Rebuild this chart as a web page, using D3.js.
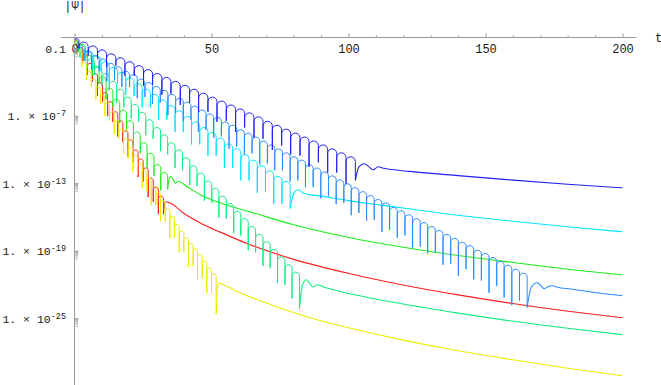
<!DOCTYPE html>
<html>
<head>
<meta charset="utf-8">
<script src="https://cdn.jsdelivr.net/npm/d3@7"></script>
<style>
  body { margin: 0; background: #fff; }
  svg { display: block; }
</style>
</head>
<body>
<div id="chart"></div>
<script>
// values are log10|Psi|; dips are [t, log10 value] at the zeros of the ringing,
// peaks are the lobe tops between two dips, tails are the late-time power laws
const xMajor = [0, 50, 100, 150, 200];
const xMinor = [10, 20, 30, 40, 60, 70, 80, 90, 110, 120, 130, 140, 160, 170, 180, 190];
const yTickExp = [-1, -7, -13, -19, -25];

const blueDips = [[0,-0.3],[1.6,-1.0],[5.0,-1.6],[8.4,-1.9],[11.7,-2.6],[15.1,-2.5],[18.4,-3.4],[21.8,-3.4],[25.2,-4.3],[28.5,-4.2],[31.9,-5.1],[35.2,-5.0],[38.6,-6.0],[42.0,-5.8],[45.3,-6.6],[48.7,-6.6],[52.0,-7.5],[55.4,-7.4],[58.8,-8.4],[62.1,-8.0],[65.5,-8.9],[68.8,-9.0],[72.2,-10.0],[75.6,-9.6],[78.9,-10.4],[82.3,-10.5],[85.6,-11.5],[89.0,-11.1],[92.4,-12.0],[95.7,-12.0],[99.1,-13.0],[102.5,-12.7]];
const bluePeaks = [-0.1,-0.4,-0.75,-1.1,-1.45,-1.8,-2.15,-2.5,-2.85,-3.2,-3.55,-3.9,-4.25,-4.6,-4.95,-5.3,-5.65,-6.0,-6.35,-6.7,-7.05,-7.45,-7.8,-8.15,-8.5,-8.85,-9.2,-9.55,-9.9,-10.25,-10.6];
const blueTail = [[102.5,-12.7],[103.8,-11.5],[105.7,-11.22],[107.5,-11.5],[109,-11.76],[110.8,-11.49],[113,-11.63],[122.5,-11.9],[140,-12.28],[160,-12.68],[180,-13.04],[200,-13.36]];

const azureDips = [[0.6,-1.3],[3.4,-2.1],[6.2,-2.9],[9.0,-3.0],[11.8,-3.9],[14.6,-3.8],[17.3,-4.4],[20.1,-4.4],[22.9,-5.4],[25.7,-5.3],[28.5,-5.9],[31.3,-5.8],[34.1,-6.9],[36.9,-6.7],[39.7,-7.4],[42.5,-7.3],[45.2,-8.4],[48.0,-8.2],[50.8,-8.9],[53.6,-8.8],[56.4,-9.9],[59.2,-9.7],[62.0,-10.4],[64.8,-10.3],[67.6,-11.3],[70.4,-11.2],[73.1,-11.8],[75.9,-11.8],[78.7,-12.8],[81.5,-12.7],[84.3,-13.3],[87.1,-13.3],[89.9,-14.3],[92.7,-14.1],[95.5,-14.8],[98.3,-14.7],[101.0,-15.8],[103.8,-15.6],[106.6,-16.3],[109.4,-16.2],[112.2,-17.3],[115.0,-17.1],[117.8,-17.8],[120.6,-17.6],[123.4,-18.7],[126.2,-18.6],[128.9,-19.2],[131.7,-19.1],[134.5,-20.2],[137.3,-20.1],[140.1,-21.2],[142.9,-20.6],[145.7,-21.5],[148.5,-21.6],[151.3,-22.7],[154.1,-22.1],[156.8,-23.1],[159.6,-23.8],[162.4,-23.4],[165.2,-24.0]];
const azurePeaks = [-0.9,-1.2,-1.6,-1.9,-2.3,-2.6,-3.0,-3.3,-3.7,-4.0,-4.35,-4.7,-5.05,-5.4,-5.75,-6.1,-6.45,-6.8,-7.1,-7.5,-7.8,-8.2,-8.5,-8.85,-9.2,-9.55,-9.9,-10.25,-10.6,-10.9,-11.3,-11.6,-11.95,-12.3,-12.65,-13.0,-13.35,-13.7,-14.05,-14.4,-14.7,-15.1,-15.4,-15.75,-16.1,-16.45,-16.8,-17.15,-17.5,-17.85,-18.2,-18.5,-18.9,-19.2,-19.55,-19.9,-20.25,-20.6,-20.95];
const azureTail = [[165.2,-24.0],[166.7,-22.2],[168.9,-21.8],[170.2,-22.05],[171.4,-22.33],[172.8,-22.15],[174.4,-22.07],[176.2,-22.2],[181,-22.35],[190,-22.67],[200,-22.96]];

const cyanDips = [[0.7,-1.2],[3.7,-2.0],[6.7,-2.8],[9.7,-3.0],[12.7,-4.0],[15.7,-4.1],[18.7,-5.1],[21.7,-5.2],[24.7,-6.2],[27.7,-6.2],[30.7,-7.3],[33.7,-7.3],[36.7,-8.4],[39.7,-8.4],[42.7,-9.5],[45.7,-9.5],[48.7,-10.5],[51.7,-10.5],[54.7,-11.6],[57.7,-11.6],[60.7,-12.7],[63.7,-12.7],[66.7,-13.8],[69.7,-13.7],[72.7,-14.8],[75.7,-14.8],[78.7,-15.2]];
const cyanPeaks = [-0.7,-1.2,-1.65,-2.15,-2.65,-3.1,-3.6,-4.1,-4.6,-5.05,-5.55,-6.05,-6.5,-7.0,-7.5,-8.0,-8.45,-8.95,-9.45,-9.9,-10.4,-10.9,-11.4,-11.85,-12.35,-12.8];
const cyanTail = [[78.7,-15.2],[80.2,-13.75],[81.8,-13.53],[83.5,-13.85],[90,-14.1],[100,-14.5],[120,-15.15],[140,-15.8],[160,-16.33],[180,-16.82],[200,-17.27]];

const springDips = [[0,-0.4],[2.0,-1.8],[4.7,-2.8],[7.3,-3.3],[10.0,-4.3],[12.7,-4.7],[15.4,-5.8],[18.0,-6.2],[20.7,-7.2],[23.4,-7.5],[26.0,-8.7],[28.7,-9.0],[31.4,-10.1],[34.0,-10.4],[36.7,-11.6],[39.4,-11.8],[42.1,-13.1],[44.7,-13.2],[47.4,-14.5],[50.1,-14.7],[52.7,-16.0],[55.4,-16.1],[58.1,-17.4],[60.7,-17.6],[63.4,-18.9],[66.1,-19.1],[68.8,-20.3],[71.4,-20.5],[74.1,-21.8],[76.8,-22.0],[79.4,-23.2],[82.1,-24.1]];
const springPeaks = [-0.5,-1.2,-1.9,-2.6,-3.2,-3.9,-4.6,-5.3,-5.95,-6.65,-7.3,-8.0,-8.65,-9.35,-10.0,-10.7,-11.4,-12.05,-12.75,-13.4,-14.1,-14.75,-15.45,-16.1,-16.8,-17.5,-18.15,-18.85,-19.5,-20.2,-20.85];
const springTail = [[82.1,-24.1],[83.2,-22.0],[84.6,-21.53],[86,-21.9],[87,-22.18],[88.5,-21.98],[92.1,-22.27],[100.6,-22.78],[118.9,-23.65],[140,-24.5],[156.5,-25.1],[180,-25.85],[200,-26.42]];

const greenDips = [[0,-0.2],[1.5,-1.3],[4.0,-2.1],[6.5,-3.4],[9.0,-4.1],[11.5,-5.5],[14.0,-6.2],[16.5,-7.6],[19.0,-8.2],[21.5,-9.6],[24.0,-10.3],[26.5,-11.6],[29.0,-12.3],[31.5,-13.6],[34.0,-13.5]];
const greenPeaks = [-0.3,-0.6,-1.6,-2.55,-3.5,-4.5,-5.5,-6.45,-7.4,-8.4,-9.35,-10.3,-11.3,-12.0];
const greenTail = [[34.0,-13.5],[34.6,-12.5],[35.2,-12.35],[36.8,-12.94],[38,-12.8],[41,-13.24],[45.9,-13.98],[55,-14.85],[64.1,-15.5],[80,-16.65],[100.6,-17.8],[118.9,-18.6],[140,-19.38],[160,-20.0],[180.9,-20.62],[200,-21.09]];

const redDips = [[0,-0.1],[1.0,-1.2],[2.85,-2.1],[4.7,-3.3],[6.55,-3.9],[8.4,-5.2],[10.25,-5.7],[12.1,-7.0],[13.95,-7.5],[15.8,-8.8],[17.65,-9.3],[19.5,-10.6],[21.35,-11.1],[23.2,-12.4],[25.05,-12.8],[26.9,-14.2],[28.75,-14.6],[30.6,-15.7],[32.45,-15.7]];
const redPeaks = [-0.2,-0.6,-1.5,-2.3,-3.2,-4.0,-4.9,-5.7,-6.6,-7.4,-8.3,-9.1,-10.0,-10.8,-11.6,-12.5,-13.3,-14.1];
const redTail = [[32.45,-15.7],[33.2,-14.6],[34.9,-14.72],[40,-15.65],[45.9,-16.49],[53.2,-17.3],[64.1,-18.42],[80,-19.72],[100.6,-21.0],[118.9,-21.95],[140,-22.88],[160,-23.65],[180.9,-24.35],[200,-24.91]];

const yellowDips = [[0,-0.2],[1.0,-1.5],[2.7,-2.6],[4.4,-3.8],[6.1,-4.4],[7.8,-5.5],[9.45,-5.9],[11.1,-7.0],[12.8,-7.4],[14.5,-8.6],[16.2,-9.0],[17.9,-10.3],[19.6,-10.7],[21.3,-12.0],[23.0,-12.2],[24.7,-13.4],[26.4,-13.6],[28.0,-14.9],[29.7,-14.9],[31.4,-16.3],[33.1,-16.4],[34.8,-17.8],[36.5,-17.8],[38.2,-19.1],[39.9,-19.1],[41.6,-20.4],[43.3,-20.3],[44.9,-21.5],[46.6,-21.4],[48.3,-22.7],[50.0,-22.7],[51.7,-24.6]];
const yellowPeaks = [-0.3,-1.1,-2.2,-3.0,-3.7,-4.4,-5.1,-5.8,-6.6,-7.4,-8.2,-9.0,-9.8,-10.5,-11.2,-11.8,-12.5,-13.2,-13.8,-14.5,-15.2,-15.9,-16.6,-17.2,-17.8,-18.3,-18.8,-19.3,-19.9,-20.5,-21.0];
const yellowTail = [[51.7,-24.6],[52.2,-22.2],[52.6,-21.83],[54.4,-21.98],[60,-22.65],[70,-23.6],[88.5,-25.09],[100,-25.8],[120,-26.9],[140,-27.85],[160,-28.65],[180,-29.4],[200,-30.07]];

const curves = [
  { dips: redDips, peaks: redPeaks, tail: redTail, color: '#ff1f1f' },
  { dips: yellowDips, peaks: yellowPeaks, tail: yellowTail, color: '#ecec00' },
  { dips: greenDips, peaks: greenPeaks, tail: greenTail, color: '#1cee1c' },
  { dips: springDips, peaks: springPeaks, tail: springTail, color: '#10ec80' },
  { dips: cyanDips, peaks: cyanPeaks, tail: cyanTail, color: '#00e4ff' },
  { dips: azureDips, peaks: azurePeaks, tail: azureTail, color: '#2b8cff' },
  { dips: blueDips, peaks: bluePeaks, tail: blueTail, color: '#2020f2' }
];

const W = 661, H = 385;
const font = '"Liberation Mono", "DejaVu Sans Mono", monospace';
const axisColor = '#9a9a9a';
const K = 0.5523; // bezier factor for a quarter ellipse

const svg = d3.select('#chart').append('svg')
  .attr('width', W)
  .attr('height', H);

const x = d3.scaleLinear().domain([0, 200]).range([74.5, 622.5]);
const y = d3.scaleLog().domain([1e-31, 1]).range([386.25, 37.5]);
const v = (e) => Math.pow(10, e);

//Ringing part: a round arch per lobe, with a thin spike down to each zero
function ringPath(dips, peaks) {
  const p = d3.path();
  p.moveTo(x(dips[0][0]), y(v(dips[0][1])));
  peaks.forEach((pk, i) => {
    const x0 = x(dips[i][0]);
    const x1 = x(dips[i + 1][0]);
    const xm = (x0 + x1) / 2;
    const rx = (x1 - x0) / 2;
    const ry = rx;
    const top = y(v(pk));
    const sh = top + ry;
    p.lineTo(x0, sh);
    p.bezierCurveTo(x0, sh - K * ry, xm - K * rx, top, xm, top);
    p.bezierCurveTo(xm + K * rx, top, x1, sh - K * ry, x1, sh);
    p.lineTo(x1, y(v(dips[i + 1][1])));
  });
  return p.toString();
}

const tailLine = d3.line()
  .x((d) => x(d[0]))
  .y((d) => y(v(d[1])))
  .curve(d3.curveMonotoneX);

const plot = svg.append('g').attr('class', 'curves');

curves.forEach((c) => {
  plot.append('path')
    .attr('d', ringPath(c.dips, c.peaks))
    .attr('fill', 'none')
    .attr('stroke', c.color)
    .attr('stroke-width', 1)
    .attr('stroke-linejoin', 'round');

  plot.append('path')
    .attr('d', tailLine(c.tail))
    .attr('fill', 'none')
    .attr('stroke', c.color)
    .attr('stroke-width', 1.1);
});

//X axis sits at |Psi| = 1, ticks point up, labels below
const y0 = y(1);

svg.append('line')
  .attr('x1', x(-4.9))
  .attr('x2', x(205.1))
  .attr('y1', y0)
  .attr('y2', y0)
  .attr('stroke', axisColor);

const xAxis = svg.append('g')
  .attr('class', 'axis axis-x')
  .attr('transform', 'translate(0,' + y0 + ')')
  .call(d3.axisBottom(x).tickValues(xMajor).tickSize(-4).tickPadding(7).tickFormat(d3.format('d')));

svg.append('g')
  .attr('class', 'axis axis-x-minor')
  .attr('transform', 'translate(0,' + y0 + ')')
  .call(d3.axisBottom(x).tickValues(xMinor).tickSize(-2).tickFormat(''));

svg.selectAll('.axis .domain').remove();
svg.selectAll('.axis .tick line').attr('stroke', axisColor);
xAxis.selectAll('text')
  .attr('fill', '#1a1a1a')
  .style('font-family', font)
  .style('font-size', '12px');

//Y axis
svg.append('line')
  .attr('x1', x(0))
  .attr('x2', x(0))
  .attr('y1', y0)
  .attr('y2', H)
  .attr('stroke', axisColor);

const yTicks = svg.append('g').attr('class', 'axis-y');

yTickExp.forEach((k) => {
  yTicks.append('line')
    .attr('x1', x(0)).attr('x2', x(0) + 4)
    .attr('y1', y(v(k))).attr('y2', y(v(k)))
    .attr('stroke', axisColor);

  [2, 3, 4, 5, 6, 7, 8, 9].forEach((m) => {
    const yy = y(m * v(k - 1));
    yTicks.append('line')
      .attr('x1', x(0) + 1).attr('x2', x(0) + 3.5)
      .attr('y1', yy).attr('y2', yy)
      .attr('stroke', axisColor)
      .attr('stroke-width', 0.7);
  });

  const label = yTicks.append('text')
    .attr('x', 66)
    .attr('y', y(v(k)))
    .attr('dy', '0.35em')
    .attr('text-anchor', 'end')
    .attr('fill', '#1a1a1a')
    .style('font-family', font)
    .style('font-size', '11.5px');

  if (k === -1) {
    label.text('0.1');
  } else {
    label.append('tspan').text('1. \u00d7 10');
    label.append('tspan')
      .attr('dy', '-0.5em')
      .style('font-size', '8.5px')
      .text(String(k));
  }
});

//Axis titles
svg.append('text')
  .attr('x', 75)
  .attr('y', 10)
  .attr('text-anchor', 'middle')
  .attr('fill', '#1a1a1a')
  .style('font-family', font)
  .style('font-size', '12px')
  .text('|\u03a8|');

svg.append('text')
  .attr('x', 655)
  .attr('y', y0)
  .attr('dy', '0.35em')
  .attr('fill', '#1a1a1a')
  .style('font-family', font)
  .style('font-size', '12px')
  .text('t');
</script>
</body>
</html>
